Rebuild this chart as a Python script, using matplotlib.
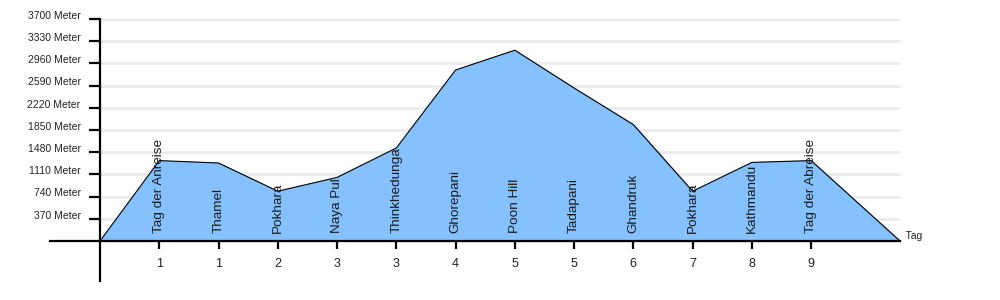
import numpy as np
import matplotlib
matplotlib.use('Agg')
import matplotlib.pyplot as plt
import matplotlib.transforms as mtransforms

plt.rcParams['font.family'] = ['Liberation Sans', 'DejaVu Sans']

# stages of the trek
places = ['Tag der Anreise', 'Thamel', 'Pokhara', 'Naya Pul', 'Thinkhedunga',
          'Ghorepani', 'Poon Hill', 'Tadapani', 'Ghandruk', 'Pokhara',
          'Kathmandu', 'Tag der Abreise']
days = ['1', '1', '2', '3', '3', '4', '5', '5', '6', '7', '8', '9']
altitude = [1340, 1300, 830, 1060, 1550, 2850, 3180, 2550, 1940, 830, 1310, 1340]
end_x = 13.5
yticks = [370, 740, 1110, 1480, 1850, 2220, 2590, 2960, 3330, 3700]

x = np.arange(1, len(places) + 1)
xs = np.concatenate([[0], x, [end_x]])
ys = np.concatenate([[0], altitude, [0]])

fig = plt.figure(figsize=(10, 3), dpi=100)
ax = fig.add_axes([0.05, 19 / 300, 0.85, 262 / 300])
ax.set_xlim(-50 / 59.25, end_x)
ax.set_ylim(-40 / 0.06, 3700)

ax.hlines(yticks, 0, end_x, color='#ebebeb', linewidth=2, zorder=0)
ax.fill_between(xs, ys, 0, color='#85c1ff', zorder=1)
ax.plot(xs, ys, color='black', linewidth=0.8, zorder=2)

for xi, name in zip(x, places):
    ax.text(xi, 130, name, rotation=90, ha='center', va='bottom',
            fontsize=9.7, color='#1a1a1a', zorder=3)

for s in ['top', 'right']:
    ax.spines[s].set_visible(False)
ax.spines['left'].set_position(('data', 0))
ax.spines['bottom'].set_position(('data', 0))
ax.spines['left'].set_linewidth(1.6)
ax.spines['bottom'].set_linewidth(1.6)

ax.set_xticks(x)
ax.set_xticklabels(days, fontsize=9, color='#222222')
ax.set_yticks(yticks)
ax.set_yticklabels([f'{v} Meter' for v in yticks], fontsize=7.5, color='#222222')
ax.tick_params(axis='x', length=6, width=1.6, pad=6)
ax.tick_params(axis='y', length=8, width=1.6, pad=6)

# y labels sit a bit above their ticks
off = mtransforms.ScaledTranslation(0, 3 / 72, fig.dpi_scale_trans)
for lab in ax.get_yticklabels():
    lab.set_transform(lab.get_transform() + off)

ax.text(end_x, 0, '  Tag', fontsize=7.5, ha='left', va='bottom', color='#222222',
        clip_on=False)

fig.savefig('out.png', dpi=100)
